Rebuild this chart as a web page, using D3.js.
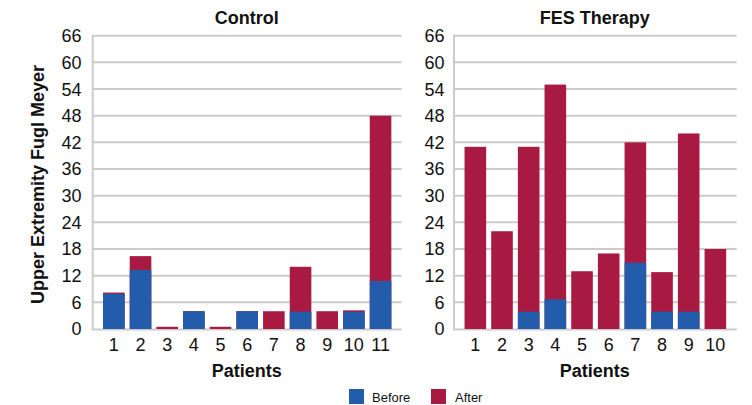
<!DOCTYPE html>
<html>
<head>
<meta charset="utf-8">
<script src="https://cdn.jsdelivr.net/npm/d3@7"></script>
<style>
  html, body { margin: 0; padding: 0; background: #fff; }
  svg { display: block; font-family: "Liberation Sans", Arial, sans-serif; }
</style>
</head>
<body>
<svg id="chart" width="752" height="405"></svg>
<script>
// ---- data ----
const controlPatients = ["1","2","3","4","5","6","7","8","9","10","11"];
const controlBefore   = [7.9, 13.3, 0, 4, 0, 4, 0, 3.9, 0, 3.9, 10.8];
const controlAfter    = [8.2, 16.4, 0.5, 4, 0.5, 4, 4, 14, 4, 4.2, 48];

const fesPatients = ["1","2","3","4","5","6","7","8","9","10"];
const fesBefore   = [0, 0, 3.9, 6.7, 0, 0, 14.9, 3.9, 3.9, 0];
const fesAfter    = [41, 22, 41, 55, 13, 17, 42, 12.8, 44, 18];

const yTicks = [0, 6, 12, 18, 24, 30, 36, 42, 48, 54, 60, 66];
const panelTitles = ["Control", "FES Therapy"];
const seriesNames = ["Before", "After"];
const yAxisTitle = "Upper Extremity Fugl Meyer";
const xAxisTitle = "Patients";

// ---- style ----
const BLUE = "#225CAA";
const RED = "#A81A42";
const GRID = "#CBCBCB";
const TXT = "#111";

const svg = d3.select("#chart");

const y = d3.scaleLinear().domain([0, 66]).range([329, 35.7]);

const panels = [
  { title: panelTitles[0], cats: controlPatients, before: controlBefore, after: controlAfter,
    x0: 92.7, x1: 401.7, labelRight: 81.5 },
  { title: panelTitles[1], cats: fesPatients, before: fesBefore, after: fesAfter,
    x0: 454, x1: 736.7, labelRight: 444.5 }
];

const step = 26.67;
panels.forEach(p => {
  const n = p.cats.length;
  const totalW = p.x1 - p.x0;
  // outer padding so that step stays constant
  const po = (totalW / step - n + 0.19) / 2;
  const x = d3.scaleBand().domain(p.cats).range([p.x0, p.x1])
    .paddingInner(0.19).paddingOuter(po);

  const g = svg.append("g");

  // gridlines
  g.selectAll("line.grid").data(yTicks.filter(t => t > 0)).join("line")
    .attr("x1", p.x0).attr("x2", p.x1)
    .attr("y1", d => y(d)).attr("y2", d => y(d))
    .attr("stroke", GRID).attr("stroke-width", 2);

  // axis lines
  g.append("line").attr("x1", p.x0).attr("x2", p.x0).attr("y1", y(66) - 1).attr("y2", y(0) + 1)
    .attr("stroke", GRID).attr("stroke-width", 2);
  g.append("line").attr("x1", p.x0 - 1).attr("x2", p.x1).attr("y1", y(0) + 0.5).attr("y2", y(0) + 0.5)
    .attr("stroke", GRID).attr("stroke-width", 2);

  // y tick labels
  g.selectAll("text.ytick").data(yTicks).join("text")
    .attr("x", p.labelRight).attr("y", d => y(d))
    .attr("dy", "0.36em").attr("text-anchor", "end")
    .attr("font-size", 18).attr("fill", TXT)
    .text(d => d);

  // After bars (behind)
  g.selectAll("rect.after").data(p.cats).join("rect")
    .attr("x", d => x(d)).attr("width", x.bandwidth())
    .attr("y", (d, i) => y(p.after[i]))
    .attr("height", (d, i) => y(0) - y(p.after[i]))
    .attr("fill", RED);
  // Before bars (front)
  g.selectAll("rect.before").data(p.cats).join("rect")
    .attr("x", d => x(d)).attr("width", x.bandwidth())
    .attr("y", (d, i) => y(p.before[i]))
    .attr("height", (d, i) => y(0) - y(p.before[i]))
    .attr("fill", BLUE);

  // x tick labels
  g.selectAll("text.xtick").data(p.cats).join("text")
    .attr("x", d => x(d) + x.bandwidth() / 2).attr("y", 351)
    .attr("text-anchor", "middle").attr("font-size", 18).attr("fill", TXT)
    .text(d => d);

  // panel title
  g.append("text").attr("x", (p.x0 + p.x1) / 2 - 0.5).attr("y", 23.5)
    .attr("text-anchor", "middle").attr("font-size", 18).attr("font-weight", "bold")
    .attr("fill", TXT).text(p.title);

  // x axis title
  g.append("text").attr("x", (p.x0 + p.x1) / 2 - 0.5).attr("y", 377)
    .attr("text-anchor", "middle").attr("font-size", 18).attr("font-weight", "bold")
    .attr("fill", TXT).text(xAxisTitle);
});

// y axis title
svg.append("text")
  .attr("transform", "translate(44,184.5) rotate(-90)")
  .attr("text-anchor", "middle").attr("font-size", 18).attr("font-weight", "bold")
  .attr("fill", TXT).text(yAxisTitle);

// legend
const legend = [
  { name: seriesNames[0], color: BLUE, sx: 349, tx: 372 },
  { name: seriesNames[1], color: RED, sx: 431, tx: 455 }
];
const lg = svg.append("g");
lg.selectAll("rect").data(legend).join("rect")
  .attr("x", d => d.sx).attr("y", 389).attr("width", 15).attr("height", 15)
  .attr("fill", d => d.color);
lg.selectAll("text").data(legend).join("text")
  .attr("x", d => d.tx).attr("y", 401.7).attr("font-size", 13).attr("fill", TXT)
  .text(d => d.name);
</script>
</body>
</html>
